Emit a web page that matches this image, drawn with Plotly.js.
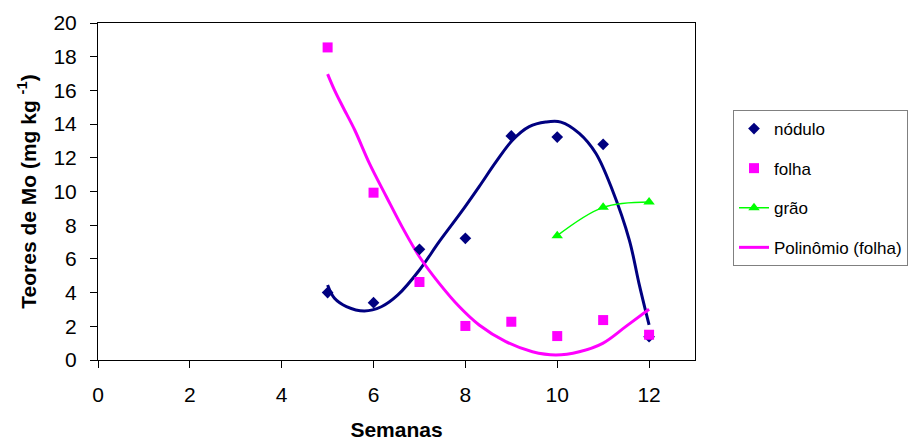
<!DOCTYPE html>
<html>
<head>
<meta charset="utf-8">
<script src="https://cdn.plot.ly/plotly-3.0.1.min.js"></script>
<style>html,body{margin:0;padding:0;background:#fff;}#chart{width:919px;height:447px;}</style>
</head>
<body>
<div id="chart"></div>
<script>
// Semanas (weeks)
const semanas = [5, 6, 7, 8, 9, 10, 11, 12];
const nodulo = [4.0, 3.4, 6.57, 7.22, 13.3, 13.23, 12.8, 1.38];
const folha = [18.55, 9.93, 4.63, 2.02, 2.27, 1.42, 2.37, 1.5];
const graoSemanas = [10, 11, 12];
const grao = [7.38, 9.06, 9.38];

// Trend curves
const trendNodX = [5.0, 5.15, 5.41, 5.8, 6.17, 6.53, 7.0, 7.43, 7.9, 8.3, 8.67, 9.03, 9.39, 9.75, 10.08, 10.48, 10.84, 11.2, 11.57, 11.78, 12.0];
const trendNodY = [4.45, 3.66, 3.17, 2.91, 3.16, 3.86, 5.34, 7.02, 8.74, 10.29, 11.77, 13.06, 13.85, 14.12, 14.12, 13.45, 12.27, 10.09, 7.12, 4.55, 2.08];
const trendFolX = [5.0, 5.15, 5.33, 5.59, 5.91, 6.28, 6.64, 7.0, 7.43, 7.87, 8.3, 8.88, 9.46, 9.97, 10.48, 10.99, 11.49, 12.0];
const trendFolY = [16.97, 16.02, 15.03, 13.65, 11.67, 9.69, 7.81, 6.13, 4.55, 3.16, 2.08, 1.09, 0.49, 0.30, 0.49, 0.99, 1.98, 3.01];

const xTicks = [0, 2, 4, 6, 8, 10, 12];
const yTicks = [0, 2, 4, 6, 8, 10, 12, 14, 16, 18, 20];

const NAVY = '#000080', MAG = '#FF00FF', GREEN = '#00FF00';
const FONT = 'Liberation Sans, Arial, sans-serif';

const traces = [
  {x: trendNodX, y: trendNodY, mode: 'lines', line: {color: NAVY, width: 3, shape: 'spline'}, showlegend: false, hoverinfo: 'skip'},
  {x: trendFolX, y: trendFolY, mode: 'lines', line: {color: MAG, width: 3, shape: 'spline'}, showlegend: false, hoverinfo: 'skip'},
  {x: semanas, y: nodulo, name: 'nódulo', mode: 'markers', marker: {symbol: 'diamond', color: NAVY, size: 9}, legendgroup: 'a', legendrank: 1},
  {x: semanas, y: folha, name: 'folha', mode: 'markers', marker: {symbol: 'square', color: MAG, size: 10}, legendgroup: 'b', legendrank: 2},
  {x: graoSemanas, y: grao, name: 'grão', mode: 'lines+markers', line: {color: GREEN, width: 1.5, shape: 'spline'}, marker: {symbol: 'triangle-up', color: GREEN, size: 10}, legendgroup: 'c', legendrank: 3},
  {x: [null], y: [null], name: 'Polinômio (folha)', mode: 'lines', line: {color: MAG, width: 3}, legendgroup: 'd', legendrank: 4}
];

const layout = {
  width: 919, height: 447,
  margin: {l: 98, r: 223, t: 23, b: 87},
  paper_bgcolor: '#fff', plot_bgcolor: '#fff',
  font: {family: FONT, size: 21, color: '#000'},
  xaxis: {
    range: [0, 13], tickvals: xTicks, ticktext: xTicks.map(String),
    showgrid: false, zeroline: false, showline: true, linecolor: '#000', linewidth: 1, mirror: true,
    ticks: 'outside', ticklen: 7, tickcolor: '#000', ticklabelstandoff: 9,
    tickfont: {size: 21, family: FONT},
    title: {text: '<b>Semanas</b>', font: {size: 21, family: FONT}, standoff: 17}
  },
  yaxis: {
    range: [0, 20], tickvals: yTicks, ticktext: yTicks.map(String),
    showgrid: false, zeroline: false, showline: true, linecolor: '#000', linewidth: 1, mirror: true,
    ticks: 'outside', ticklen: 7, tickcolor: '#000', ticklabelstandoff: 9,
    tickfont: {size: 21, family: FONT},
    title: {text: '<b>Teores de Mo (mg kg <sup>-1</sup>)</b>', font: {size: 21, family: FONT}, standoff: 11}
  },
  showlegend: true,
  legend: {
    xanchor: 'left', yanchor: 'top',
    xref: 'paper', yref: 'paper',
    bordercolor: '#808080', borderwidth: 1, bgcolor: '#fff',
    font: {size: 17, family: FONT},
    traceorder: 'grouped', tracegroupgap: 14.5
  }
};
layout.legend.x = (733 - 98) / (919 - 98 - 223);
layout.legend.y = 1 - (110 - 23) / (447 - 23 - 87);

Plotly.newPlot('chart', traces, layout, {displayModeBar: false, staticPlot: true});
</script>
</body>
</html>
